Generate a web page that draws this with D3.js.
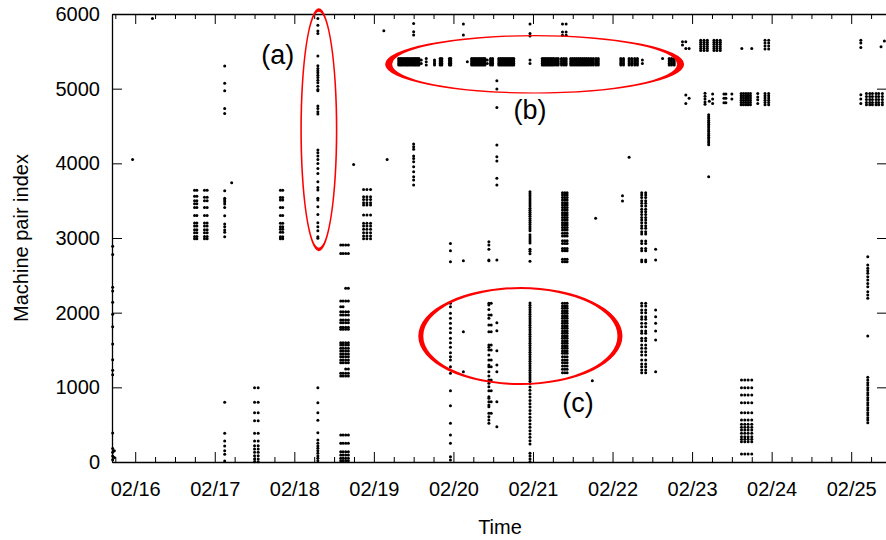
<!DOCTYPE html>
<html>
<head>
<meta charset="utf-8">
<script src="https://cdn.jsdelivr.net/npm/d3@7"></script>
<style>
  body { margin: 0; background: #fff; }
  text { font-family: "Liberation Sans", Arial, Helvetica, sans-serif; }
</style>
</head>
<body>
<svg id="chart" width="886" height="540"></svg>
<script>
// Time axis: hours since 02/16 00:00. Index axis: machine pair index.
const dayLabels = ["02/16", "02/17", "02/18", "02/19", "02/20", "02/21", "02/22", "02/23", "02/24", "02/25"];
const dayHours = [0, 24, 48, 72, 96, 120, 144, 168, 192, 216];
const indexTicks = [0, 1000, 2000, 3000, 4000, 5000, 6000];

// Each group: observation times t (hours) x machine pair indices v.
const leftEdge = [
  { t: [-6.8], v: [2890, 2780, 2340, 2290, 2140, 1980, 1810, 1580, 1370, 1230, 1170, 390, 180, 130, 80, 30] },
  { t: [-6.3], v: [150, 60] }
];

const isolated = [
  { t: [-0.8], v: [4053] }, { t: [5.2], v: [5940] }, { t: [29.1], v: [3740] },
  { t: [65.9], v: [3986] }, { t: [75.0], v: [5775] }, { t: [76.0], v: [4053] },
  { t: [137.9], v: [1089] }, { t: [138.9], v: [3263] }, { t: [147.0], v: [3566, 3495] },
  { t: [149.0], v: [4080] }
];

const day17 = [
  { t: [17.9, 18.6], v: [3640, 3560, 3500, 3460, 3410, 3300, 3200, 3160, 3110, 3070, 3020, 2990] },
  { t: [20.9, 21.7], v: [3640, 3545, 3500, 3410, 3300, 3200, 3160, 3110, 3070, 3020, 2990] },
  { t: [27.0], v: [5302, 5071, 4972, 4736, 4669, 3633, 3531, 3508, 3486, 3455, 3410, 3297, 3187, 3151, 3107, 3076, 3017, 800, 385, 280, 215, 150, 105, 15] },
  { t: [36.0, 37.1], v: [995, 800, 660, 553, 384, 281, 218, 174, 130, 84, 40, 4] },
  { t: [43.8, 44.5], v: [3640, 3544, 3508, 3410, 3300, 3196, 3151, 3116, 3076, 3017, 2990] }
];

const day18 = [
  { t: [55.1], v: [5941, 5851, 5771, 5740, 5436, 5306, 5271, 5239, 5212, 5181, 5150, 5114, 5078, 5034, 4990, 4971, 4767, 4736, 4691, 4660, 4178, 4141, 4097, 4053, 3999, 3932, 3865, 3753, 3678, 3642, 3531, 3508, 3418, 3316, 3204, 3150, 3097, 3017, 2995, 995, 794, 660, 558, 392, 295, 250, 214, 183, 151, 116, 80, 50, 17] },
  { t: [62.0, 62.7, 63.5, 64.3], v: [2905, 2794, 2156, 2013, 1968, 1901, 1865, 1804, 1777, 1597, 1567, 1522, 1486, 1446, 1410, 1366, 1330, 1188, 1152, 362, 250, 138, 94, 50, 17] },
  { t: [62.0, 62.7], v: [2080] },
  { t: [63.5, 64.3], v: [2326, 1245] },
  { t: [68.9, 69.9, 71.0], v: [3651, 3552, 3517, 3472, 3441, 3307, 3196, 3160, 3116, 3071, 3026, 2990] }
];

const day19 = [
  { t: [84.0], v: [5874, 5762, 5718, 4258, 4222, 4187, 4097, 4066, 4021, 3954, 3887, 3820, 3776, 3709] }
];

const day20 = [
  { t: [95.1], v: [2928, 2829, 2682, 2125, 2080, 1991, 1924, 1857, 1790, 1731, 1656, 1597, 1536, 1464, 1410, 1366, 1276, 1188, 955, 754, 518, 362, 250, 71, 27] },
  { t: [99.0], v: [5865, 5718, 2695, 1745, 1209] },
  { t: [106.7], v: [2950, 2906, 2848, 2705, 2695, 2125, 2102, 2044, 1968, 1924, 1835, 1745, 1567, 1536, 1500, 1433, 1366, 1299, 1276, 1209, 1152, 1098, 1054, 1008, 955, 875, 853, 808, 763, 741, 652, 607, 562, 518] },
  { t: [107.4], v: [2125, 1968, 1835, 1745, 1567, 1500, 1366, 1276, 1098, 955, 808, 652] },
  { t: [109.1], v: [5105, 4994, 4749, 4245, 4088, 4030, 3799, 3709, 2705, 1865, 1758, 1490, 1299, 1209, 808, 473] }
];

const day21 = [
  { t: [119.1], v: [5865, 5740, 5704,
      3620, 3592, 3565, 3537, 3510, 3482, 3455, 3427, 3400, 3372, 3345, 3317, 3290, 3262, 3235, 3207, 3180, 3152, 3125, 3097, 3042, 3015, 2987, 2960, 2932, 2850, 2822, 2790, 2690,
      2130, 2100, 2070, 2040, 2010, 1980, 1950, 1920, 1890, 1860, 1830, 1800, 1770, 1740, 1710, 1680, 1650, 1620, 1590, 1560, 1530, 1500, 1470, 1440, 1410, 1380, 1350, 1320, 1290, 1260, 1230, 1200, 1170, 1140, 1110, 1080,
      1050, 1005, 960, 915, 870, 825, 780, 735, 690, 645, 600, 555, 510, 465, 420, 375, 330, 285, 240, 116, 80, 40, 4] },
  { t: [128.9, 129.6, 130.3], v: [3606, 3575, 3544, 3508, 3472, 3441, 3410, 3374, 3338, 3307, 3276, 3240, 3204, 3173, 3142, 3107, 3062, 3026, 2963, 2928, 2861, 2829, 2714, 2682,
      2125, 2089, 2058, 2022, 1991, 1955, 1924, 1888, 1857, 1821, 1790, 1754, 1723, 1687, 1656, 1620, 1589, 1553, 1522, 1486, 1455, 1410, 1366, 1330, 1285, 1241, 1196] },
  { t: [128.9, 130.0], v: [5865, 5760, 5715] }
];

const day22 = [
  { t: [152.8, 154.0], v: [3606, 3575, 3544, 3499, 3464, 3428, 3384, 3352, 3316, 3276, 3240, 3204, 3164, 3129, 3084, 3053, 2959, 2928, 2861, 2829, 2705, 2682,
      2125, 2089, 2035, 2000, 1946, 1911, 1857, 1812, 1754, 1723, 1656, 1624, 1567, 1522, 1477, 1433, 1366, 1312, 1276, 1232, 1196] },
  { t: [157.0], v: [2848, 2705, 2035, 1946, 1857, 1754, 1634, 1209] }
];

const day23 = [
  { t: [165.1], v: [5628, 5584] },
  { t: [166.1], v: [5628, 5539, 4914, 4803] },
  { t: [167.1], v: [5539, 4870] },
  { t: [170.6, 171.6, 172.6], v: [5650, 5622, 5594, 5566, 5538, 5510] },
  { t: [174.6, 175.5, 176.5], v: [5650, 5622, 5594, 5566, 5538, 5510] },
  { t: [183.0, 186.0], v: [5539] },
  { t: [190.0, 191.1], v: [5650, 5610, 5570, 5530] },
  { t: [171.9], v: [4937, 4900, 4860, 4820, 4790] },
  { t: [173.2], v: [4830] },
  { t: [174.2], v: [4930, 4860, 4800] },
  { t: [177.6, 178.2], v: [4930, 4870, 4810] },
  { t: [180.0], v: [4930, 4860] },
  { t: [182.8, 183.5, 184.2, 184.9, 185.6], v: [4935, 4905, 4875, 4845, 4815, 4785] },
  { t: [187.8], v: [4935, 4890, 4850, 4800] },
  { t: [190.0, 191.1], v: [4935, 4905, 4875, 4845, 4815, 4785] },
  { t: [173.0], v: [4650, 4625, 4600, 4575, 4550, 4525, 4500, 4475, 4450, 4425, 4400, 4375, 4350, 4325, 4300, 4275, 4250, 3821] },
  { t: [182.9, 183.9, 184.9, 186.0], v: [1098, 995, 897, 794, 660, 562, 505, 465, 428, 384, 339, 304, 272, 107] }
];

const day25 = [
  { t: [218.9], v: [5650, 5610, 5550, 4920, 4860, 4800] },
  { t: [220.6, 221.6, 222.4, 223.5, 224.3, 225.4], v: [4935, 4895, 4855, 4815, 4785] },
  { t: [225.0], v: [5560] },
  { t: [226.0], v: [5640] },
  { t: [221.0], v: [2749, 2638, 2594, 2562, 2527, 2481, 2437, 2392, 2347, 2280, 2236, 2192, 1687,
      1134, 1098, 1062, 1031, 995, 964, 928, 897, 861, 830, 794, 763, 727, 696, 660, 629, 593, 562, 526] }
];

// Recurring band around index 5300-5400
const bandB = [
  { t: [79.5, 80.0, 80.4, 80.9, 81.4, 81.9, 82.3, 82.8, 83.3, 83.8, 84.3, 84.7, 85.2, 85.6], v: [5316, 5338, 5360, 5383, 5405] },
  { t: [86.3], v: [5338, 5383] },
  { t: [87.8], v: [5316, 5360, 5405] },
  { t: [90.3], v: [5316, 5338, 5360, 5383] },
  { t: [92.0, 92.5], v: [5316, 5338, 5360, 5383, 5405] },
  { t: [94.8, 95.2], v: [5316, 5338, 5360, 5383, 5405] },
  { t: [100.2], v: [5360] },
  { t: [101.5, 102.0, 102.5, 103.0, 103.5, 104.0, 104.5, 105.0, 105.5], v: [5316, 5338, 5360, 5383, 5405] },
  { t: [106.2], v: [5338, 5383] },
  { t: [107.2, 107.8], v: [5316, 5338, 5360, 5383, 5405] },
  { t: [109.7, 110.2, 110.7, 111.2, 111.7, 112.2, 112.7, 113.2, 113.7, 114.2], v: [5316, 5338, 5360, 5383, 5405] },
  { t: [119.1], v: [5338, 5383] },
  { t: [122.8, 123.3, 123.8, 124.3, 124.8, 125.3, 125.8, 126.3, 127.0, 127.6, 128.6, 129.3, 130.0], v: [5316, 5338, 5360, 5383, 5405] },
  { t: [131.4, 132.0, 132.6, 133.2, 133.8, 134.4, 135.0, 135.6, 136.2, 136.8, 137.5, 138.2, 139.0, 139.7], v: [5316, 5338, 5360, 5383, 5405] },
  { t: [146.5, 147.3], v: [5316, 5338, 5360, 5383, 5405] },
  { t: [149.0, 149.8, 150.7, 151.5], v: [5316, 5338, 5360, 5383, 5405] },
  { t: [153.0], v: [5338, 5383] },
  { t: [159.1], v: [5405] },
  { t: [161.1, 161.8, 162.6], v: [5316, 5338, 5360, 5383, 5405] }
];

// Highlighted regions: centre (hours, index) and radii (hours, index)
const highlights = [
  { label: "(a)", cx: 55.4, cy: 4451, rx: 5.6, ry: 1627, thick: 3.5, thin: 1.6, lx: 43.0, ly: 5332 },
  { label: "(b)", cx: 120.5, cy: 5326, rx: 45.1, ry: 392, thick: 7, thin: 1.2, lx: 119.1, ly: 4596 },
  { label: "(c)", cx: 116.2, cy: 1687, rx: 30.8, ry: 656, thick: 5, thin: 2, lx: 133.6, ly: 670 }
];

const x = d3.scaleLinear().domain([-7, 226.8]).range([112, 887]);
const y = d3.scaleLinear().domain([0, 6000]).range([462, 14]);

const svg = d3.select("#chart");

const groups = [leftEdge, isolated, day17, day18, day19, day20, day21, day22, day23, day25, bandB];
const points = [];
groups.forEach(list => list.forEach(g => g.t.forEach(t => g.v.forEach(v => points.push([t, v])))));

svg.append("g")
  .selectAll("circle")
  .data(points)
  .join("circle")
  .attr("cx", d => x(d[0]))
  .attr("cy", d => y(d[1]))
  .attr("r", 1.5)
  .attr("fill", "#000");

// Frame and ticks
const minorHours = d3.range(-6, 227, 6).filter(h => h % 24 !== 0);
const fontSize = 20;

function styleAxis(g) {
  g.selectAll("path").attr("stroke", "#000").attr("stroke-width", 1.3);
  g.selectAll("line").attr("stroke", "#000").attr("stroke-width", 1);
  g.selectAll("text").attr("font-size", fontSize).attr("fill", "#000")
    .attr("font-family", '"Liberation Sans", Arial, sans-serif');
}

svg.append("g").attr("transform", "translate(0,462)")
  .call(d3.axisBottom(x).tickValues(dayHours).tickSize(-10).tickSizeOuter(0).tickPadding(20)
    .tickFormat((d, i) => dayLabels[i]))
  .call(styleAxis);
svg.append("g").attr("transform", "translate(0,462)")
  .call(d3.axisBottom(x).tickValues(minorHours).tickSize(-5).tickSizeOuter(0).tickFormat(""))
  .call(g => g.select(".domain").remove())
  .call(styleAxis);
svg.append("g").attr("transform", "translate(0,14)")
  .call(d3.axisTop(x).tickValues(dayHours).tickSize(-10).tickSizeOuter(0).tickFormat(""))
  .call(styleAxis);
svg.append("g").attr("transform", "translate(0,14)")
  .call(d3.axisTop(x).tickValues(minorHours).tickSize(-5).tickSizeOuter(0).tickFormat(""))
  .call(g => g.select(".domain").remove())
  .call(styleAxis);
svg.append("g").attr("transform", "translate(112,0)")
  .call(d3.axisLeft(y).tickValues(indexTicks).tickSize(-10).tickSizeOuter(0).tickPadding(12).tickFormat(d3.format("d")))
  .call(styleAxis);
svg.append("g").attr("transform", "translate(887,0)")
  .call(d3.axisRight(y).tickValues(indexTicks).tickSize(-10).tickSizeOuter(0).tickFormat(""))
  .call(styleAxis);

// Axis titles
svg.append("text")
  .attr("transform", "translate(28,238) rotate(-90)")
  .attr("text-anchor", "middle")
  .attr("font-size", 20)
  .text("Machine pair index");
svg.append("text")
  .attr("x", 500).attr("y", 534)
  .attr("text-anchor", "middle")
  .attr("font-size", 20)
  .text("Time");

// Highlight ellipses, drawn as a band thicker at the ends of the long axis
function ellipse(cx, cy, rx, ry) {
  return `M${cx - rx},${cy}a${rx},${ry} 0 1,0 ${2 * rx},0a${rx},${ry} 0 1,0 ${-2 * rx},0Z`;
}
highlights.forEach(h => {
  const cx = x(h.cx), cy = y(h.cy);
  const rx = x(h.cx + h.rx) - cx, ry = cy - y(h.cy + h.ry);
  const horizontal = rx > ry;
  const irx = rx - (horizontal ? h.thick : h.thin);
  const iry = ry - (horizontal ? h.thin : h.thick);
  svg.append("path")
    .attr("d", ellipse(cx, cy, rx, ry) + ellipse(cx, cy, irx, iry))
    .attr("fill", "#ff0000")
    .attr("fill-rule", "evenodd");
  svg.append("text")
    .attr("x", x(h.lx)).attr("y", y(h.ly))
    .attr("text-anchor", "middle")
    .attr("font-size", 27)
    .text(h.label);
});
</script>
</body>
</html>
